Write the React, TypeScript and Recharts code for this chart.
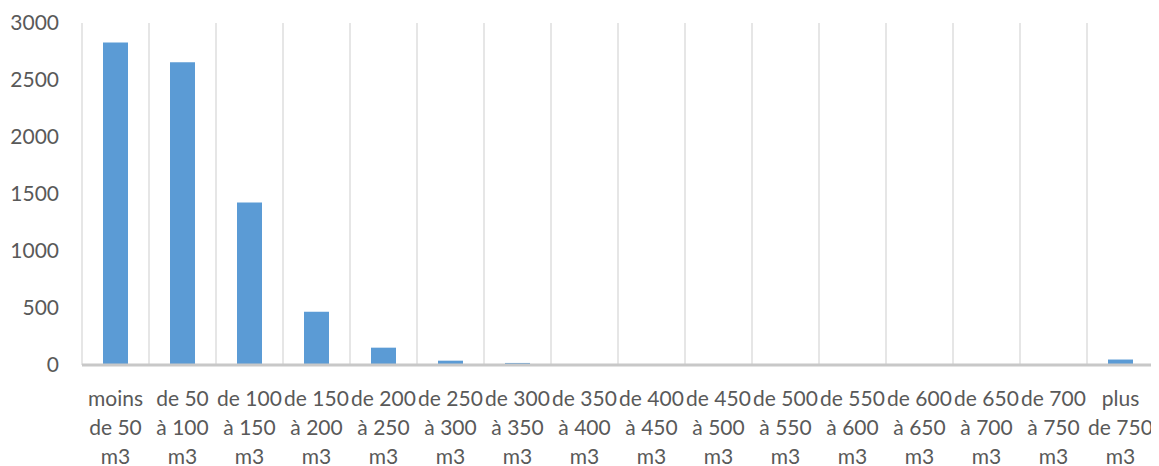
import { BarChart, Bar, XAxis, YAxis, CartesianGrid } from 'recharts';

// Volume brackets, one entry per bar; each label is already split into the lines it wraps to
const categories: string[][] = [
  ['moins', 'de 50', 'm3'],
  ['de 50', 'à 100', 'm3'],
  ['de 100', 'à 150', 'm3'],
  ['de 150', 'à 200', 'm3'],
  ['de 200', 'à 250', 'm3'],
  ['de 250', 'à 300', 'm3'],
  ['de 300', 'à 350', 'm3'],
  ['de 350', 'à 400', 'm3'],
  ['de 400', 'à 450', 'm3'],
  ['de 450', 'à 500', 'm3'],
  ['de 500', 'à 550', 'm3'],
  ['de 550', 'à 600', 'm3'],
  ['de 600', 'à 650', 'm3'],
  ['de 650', 'à 700', 'm3'],
  ['de 700', 'à 750', 'm3'],
  ['plus', 'de 750', 'm3'],
];

const counts = [2830, 2655, 1425, 468, 152, 38, 18, 5, 2, 1, 1, 1, 1, 0, 0, 48];

const yTicks = [0, 500, 1000, 1500, 2000, 2500, 3000];

const data = categories.map((lines, i) => ({
  name: lines.join(' '),
  lines,
  value: counts[i],
}));

const TEXT = '#595959';
const FONT = 'Lato, "Open Sans", sans-serif';

function CategoryTick(props: any) {
  const { x, y, index } = props;
  const lines = categories[index] || [];
  return (
    <text x={x} y={y} textAnchor="middle" fill={TEXT} fontSize={21} fontFamily={FONT}>
      {lines.map((line, i) => (
        <tspan key={i} x={x} y={y + 40.5 + i * 29}>
          {line}
        </tspan>
      ))}
    </text>
  );
}

export default function App() {
  return (
    <BarChart
      width={1151}
      height={458}
      data={data}
      margin={{ top: 15, right: 5, left: 0, bottom: 0 }}
      barSize={25}
    >
      <CartesianGrid
        horizontal={false}
        stroke="#d9d9d9"
        strokeWidth={1.3}
        // lines between categories rather than through their centres
        verticalCoordinatesGenerator={({ offset }: any) =>
          Array.from({ length: categories.length + 1 }, (_, i) =>
            offset.left + (i * offset.width) / categories.length
          )
        }
      />
      <XAxis
        dataKey="name"
        interval={0}
        height={101}
        tickLine={false}
        tickSize={0}
        tickMargin={0}
        axisLine={{ stroke: '#c8c8c8', strokeWidth: 3 }}
        tick={<CategoryTick />}
      />
      <YAxis
        width={74}
        domain={[0, 3000]}
        ticks={yTicks}
        axisLine={false}
        tickLine={false}
        tickSize={0}
        tickMargin={23}
        tick={{ fill: TEXT, fontSize: 21, fontFamily: FONT }}
      />
      <Bar dataKey="value" fill="#5b9bd5" isAnimationActive={false} />
    </BarChart>
  );
}
